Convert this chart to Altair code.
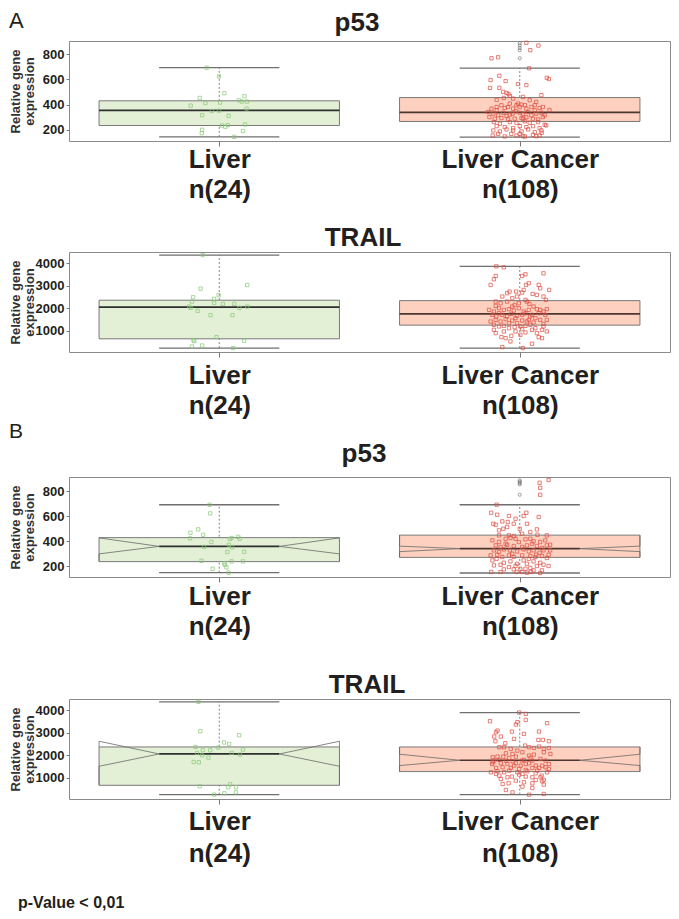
import altair as alt
import pandas as pd

groups = ["Liver", "Liver Cancer"]
counts = ["n(24)", "n(108)"]
genes = ["p53", "TRAIL", "p53", "TRAIL"]
tags = ["A", "B"]
footnote = "p-Value < 0,01"
centers = [1.0, 2.0]

# ---------------- Panel A : p53 ----------------
a_p53_liver_val = [693, 624, 490, 453, 413, 416, 392, 434, 424, 466, 424, 368,
                   349, 352, 315, 312, 234, 224, 237, 242, 200, 173, 190, 144]
a_p53_liver_jit = [-0.042, -0.001, 0.017, -0.065, -0.046, 0.003, -0.095, 0.065, 0.075, 0.084, 0.092, 0.091,
                   -0.025, -0.001, -0.057, 0.031, 0.009, 0.020, 0.029, 0.086, -0.057, -0.058, 0.079, 0.050]
a_p53_cancer_val = [891, 832, 869, 768, 776, 688, 613, 603, 629, 595,
                    587, 563, 555, 533, 533, 501, 493, 483, 469, 453,
                    475, 437, 448, 461, 421, 408, 400, 368, 381, 373,
                    381, 368, 395, 381, 395, 368, 381, 395, 373, 381,
                    357, 328, 315, 336, 309, 320, 347, 336, 325, 341,
                    315, 328, 336, 301, 288, 293, 283, 288, 293, 299,
                    288, 283, 301, 355, 328, 355, 288, 261, 248, 261,
                    256, 267, 256, 261, 240, 229, 221, 213, 229, 221,
                    229, 213, 235, 195, 187, 203, 195, 187, 203, 181,
                    195, 155, 147, 155, 149, 147, 160, 155, 176, 168,
                    168, 168, 149, 408, 435, 395, 315, 341]
a_p53_cancer_jit = [0.022, 0.035, 0.062, -0.094, -0.072, 0.031, 0.090, 0.097, -0.068, -0.097,
                    -0.047, -0.006, 0.022, -0.099, -0.068, -0.055, -0.044, -0.037, -0.033, -0.053,
                    0.072, -0.077, -0.022, 0.011, 0.055, -0.006, 0.006, -0.094, -0.077, -0.050,
                    -0.039, -0.022, -0.011, 0.000, 0.017, 0.022, 0.039, 0.050, 0.066, 0.077,
                    0.099, -0.088, -0.072, -0.055, -0.044, -0.033, -0.013, 0.000, 0.011, 0.028,
                    0.039, 0.055, 0.072, -0.101, -0.083, -0.061, -0.039, -0.017, 0.006, 0.022,
                    0.044, 0.061, 0.077, -0.077, -0.024, 0.050, 0.011, -0.086, -0.066, -0.033,
                    -0.011, 0.017, 0.033, 0.061, 0.083, -0.077, -0.050, -0.022, 0.000, 0.022,
                    0.044, 0.066, 0.088, -0.088, -0.066, -0.044, -0.022, 0.006, 0.028, 0.050,
                    0.072, -0.090, -0.050, -0.011, 0.011, 0.017, 0.044, 0.066, 0.073, -0.072,
                    -0.028, 0.000, 0.055, -0.033, 0.033, -0.061, 0.083, -0.105]
a_p53_outliers = [888, 870, 850, 832, 768]
a_p53_q1 = [234, 266]
a_p53_med = [354, 338]
a_p53_q3 = [430, 456]
a_p53_lo = [144, 142]
a_p53_hi = [693, 690]
a_p53_ticks = [200, 400, 600, 800]
a_p53_domain = [111, 905]

# ---------------- Panel A : TRAIL ----------------
a_trail_liver_val = [4364, 3031, 2867, 2484, 2573, 2289, 2409, 2067, 2009, 2231, 2187, 2187,
                     2009, 2067, 1875, 1684, 1684, 707, 573, 529, 542, 289, 333, 218]
a_trail_liver_jit = [-0.055, 0.093, -0.062, -0.087, -0.002, -0.091, -0.017, -0.100, -0.095, -0.017, 0.012, 0.050,
                     0.067, 0.093, -0.072, -0.029, 0.044, -0.009, -0.086, -0.083, 0.083, -0.091, -0.057, 0.046]
a_trail_cancer_val = [3860, 3817, 3432, 3284, 3032, 3550, 3506, 3432, 3106, 3032,
                      3032, 2810, 2884, 2736, 2662, 2736, 2691, 2632, 2588, 2365,
                      2514, 2291, 2217, 2099, 2440, 2217, 2143, 2291, 2188, 2069,
                      2514, 2365, 1921, 1847, 1773, 1921, 1951, 1892, 1995, 1847,
                      1921, 1951, 1921, 1951, 1847, 1699, 1625, 1699, 1625, 1743,
                      1655, 1699, 1773, 1699, 1773, 1699, 1477, 1403, 1507, 1447,
                      1329, 1447, 1477, 1358, 1477, 1299, 1255, 1181, 1210, 1107,
                      1151, 1181, 1210, 1255, 1107, 1033, 959, 884, 707, 662,
                      766, 959, 914, 1033, 707, 662, 1033, 959, 810, 514,
                      411, 262, 218, 1062, 1551, 1329, 1625, 1551, 1403, 1995,
                      1403, 884, 2291, 2514, 1477, 1181, 2069, 2810]
a_trail_cancer_jit = [-0.078, -0.053, -0.080, -0.086, -0.097, 0.079, 0.019, 0.008, 0.030, 0.021,
                      0.063, 0.098, 0.068, -0.034, -0.042, -0.012, 0.008, 0.043, 0.057, 0.019,
                      -0.058, -0.080, -0.064, -0.080, -0.025, -0.003, -0.017, 0.024, 0.032, 0.046,
                      0.079, 0.087, -0.102, -0.086, -0.069, -0.053, -0.036, -0.020, -0.003, 0.013,
                      0.030, 0.057, 0.068, 0.090, 0.079, -0.091, -0.078, -0.058, -0.042, -0.028,
                      -0.009, 0.008, 0.019, 0.041, 0.063, 0.085, -0.080, -0.064, -0.047, -0.025,
                      -0.009, 0.008, 0.030, 0.046, 0.068, 0.079, -0.086, -0.069, -0.053, -0.036,
                      -0.017, 0.002, 0.019, 0.035, 0.052, 0.074, 0.090, -0.080, -0.061, -0.047,
                      -0.028, -0.014, 0.019, 0.041, 0.063, 0.074, -0.086, -0.053, 0.002, -0.031,
                      0.041, -0.058, 0.010, 0.008, -0.014, -0.036, 0.035, 0.052, -0.097, -0.069,
                      0.024, 0.057, -0.042, -0.009, 0.090, 0.079, -0.025, 0.013]
a_trail_outliers = []
a_trail_q1 = [631, 1240]
a_trail_med = [2040, 1742]
a_trail_q3 = [2351, 2333]
a_trail_lo = [218, 218]
a_trail_hi = [4364, 3860]
a_trail_ticks = [1000, 2000, 3000, 4000]
a_trail_domain = [43, 4500]

# ---------------- Panel B : p53 (notched) ----------------
b_p53_liver_val = [693, 624, 469, 496, 453, 424, 395, 355, 427, 419, 437, 421,
                   373, 352, 315, 317, 245, 240, 240, 224, 211, 192, 181, 150]
b_p53_liver_jit = [-0.032, -0.030, -0.096, -0.070, -0.054, -0.097, -0.026, -0.050, 0.041, 0.035, 0.063, 0.068,
                   0.032, 0.043, 0.027, 0.083, -0.059, 0.041, 0.079, 0.017, 0.019, 0.024, -0.022, 0.031]
b_p53_cancer_val = [869, 891, 829, 773,
                    693, 629, 613, 541, 533, 560, 603, 581, 603, 629,
                    595, 555, 541, 501, 488, 501, 541, 496, 453, 448,
                    443, 427, 408, 395, 381, 421, 416, 421, 400, 395,
                    408, 373, 368, 355, 373, 363, 355, 368, 381, 363,
                    347, 368, 328, 315, 336, 328, 320, 336, 320, 328,
                    309, 328, 293, 288, 293, 275, 288, 275, 288, 283,
                    293, 283, 267, 248, 229, 240, 221, 248, 261, 240,
                    229, 203, 208, 213, 195, 203, 181, 187, 203, 213,
                    155, 155, 155, 155, 149, 155, 147, 176, 181, 168,
                    448, 475, 515, 461, 448, 421, 395, 275, 301, 221,
                    176, 168, 261, 328]
b_p53_cancer_jit = [0.066, 0.096, 0.068, 0.068,
                    -0.077, -0.095, -0.075, -0.088, -0.080, -0.058, -0.036, -0.014, 0.013, 0.022,
                    0.063, -0.040, -0.020, -0.055, -0.069, 0.000, 0.024, 0.057, 0.059, -0.036,
                    -0.020, -0.031, -0.091, -0.069, -0.047, -0.014, 0.019, 0.035, 0.046, 0.068,
                    0.085, 0.101, -0.080, -0.064, -0.042, -0.020, 0.008, 0.024, 0.041, 0.057,
                    0.074, 0.090, -0.086, -0.069, -0.053, -0.033, -0.009, 0.013, 0.030, 0.046,
                    0.066, 0.079, 0.096, -0.097, -0.075, -0.058, -0.036, -0.020, 0.008, 0.035,
                    0.055, 0.074, 0.090, -0.091, -0.053, -0.031, -0.009, 0.013, 0.030, 0.046,
                    0.068, 0.096, -0.086, -0.064, -0.036, -0.014, 0.002, 0.035, 0.057, 0.079,
                    -0.095, -0.064, -0.011, 0.008, 0.024, 0.037, 0.068, -0.020, 0.019, 0.046,
                    -0.069, 0.035, -0.042, 0.008, 0.090, -0.047, -0.003, 0.052, -0.025, 0.024,
                    -0.053, 0.074, -0.077, 0.101]
b_p53_outliers = [888, 877, 866, 856, 773]
b_p53_q1 = [238, 272]
b_p53_med = [360, 342]
b_p53_q3 = [430, 450]
b_p53_lo = [150, 147]
b_p53_hi = [693, 693]
b_p53_notch_lo = [300, 318]
b_p53_notch_hi = [428, 362]
b_p53_ticks = [200, 400, 600, 800]
b_p53_domain = [115, 915]

# ---------------- Panel B : TRAIL (notched) ----------------
b_trail_liver_val = [4380, 3071, 2893, 2567, 2504, 2371, 2342, 2223, 2223, 2104, 2104, 2253,
                     2000, 2030, 1896, 1700, 1687, 616, 705, 571, 571, 348, 304, 246]
b_trail_liver_jit = [-0.069, -0.063, 0.066, 0.016, 0.033, -0.079, -0.003, -0.055, -0.030, -0.074, 0.041, 0.079,
                     -0.057, 0.069, -0.036, -0.085, -0.068, -0.065, 0.036, 0.030, 0.056, 0.055, 0.017, -0.017]
b_trail_cancer_val = [3905, 3845, 3577, 3518, 3473, 3369, 3428, 3101, 3027, 3056,
                      3056, 2952, 2833, 2833, 2729, 2625, 2536, 2357, 2357, 2283,
                      2684, 2684, 2625, 2327, 2387, 2283, 2327, 2208, 2431, 2357,
                      2134, 2059, 1911, 1940, 1940, 1881, 1940, 1985, 2030, 2134,
                      2059, 1762, 1792, 1762, 1732, 1762, 1792, 1762, 1836, 1762,
                      1613, 1643, 1613, 1539, 1643, 1539, 1539, 1613, 1434, 1464,
                      1434, 1390, 1345, 1434, 1434, 1464, 1241, 1286, 1241, 1315,
                      1241, 1167, 1286, 1196, 1092, 1241, 943, 1018, 1137, 1048,
                      1018, 1018, 899, 1167, 720, 750, 869, 795, 750, 839,
                      452, 542, 690, 244, 274, 348, 601, 899, 1092, 1643,
                      1881, 1687, 1539, 1315, 1390, 1048, 1613, 2089]
b_trail_cancer_jit = [-0.002, 0.020, 0.020, -0.099, -0.008, -0.013, 0.091, -0.074, -0.079, -0.026,
                      0.064, 0.014, -0.085, -0.063, -0.019, -0.081, -0.048, -0.068, -0.052, -0.030,
                      0.077, 0.062, 0.097, 0.047, 0.064, 0.080, 0.097, -0.008, 0.018, 0.031,
                      0.009, -0.024, -0.090, -0.074, -0.055, -0.035, -0.013, 0.031, 0.047, 0.080,
                      0.102, -0.085, -0.068, -0.046, -0.024, 0.007, 0.014, 0.042, 0.069, 0.086,
                      -0.092, -0.063, -0.041, -0.019, 0.031, 0.053, 0.075, 0.097, -0.079, -0.057,
                      -0.030, -0.002, 0.020, 0.042, 0.064, 0.086, -0.096, -0.074, -0.052, -0.035,
                      -0.008, 0.009, 0.025, 0.053, 0.073, 0.091, -0.063, -0.041, -0.002, 0.020,
                      0.042, 0.069, 0.080, -0.079, -0.057, -0.037, -0.013, 0.014, 0.042, 0.075,
                      -0.046, 0.042, 0.080, 0.031, 0.080, -0.024, 0.009, 0.053, -0.068, -0.013,
                      0.036, -0.090, 0.003, 0.058, 0.097, -0.026, 0.020, -0.046]
b_trail_outliers = []
b_trail_q1 = [661, 1272]
b_trail_med = [2058, 1777]
b_trail_q3 = [2370, 2370]
b_trail_lo = [246, 244]
b_trail_hi = [4380, 3905]
b_trail_notch_lo = [1509, 1540]
b_trail_notch_hi = [2625, 2045]
b_trail_ticks = [1000, 2000, 3000, 4000]
b_trail_domain = [50, 4508]

# ---------------- styling ----------------
FONT = "Liberation Sans"
TEXT = "#231f20"
H = 100
LEFT = 68
WIDTH = 601
BOX_HALF = 0.4
WHISK_HALF = 0.2
point_colors = ["#86c872", "#de4a3f"]
box_colors = ["#e3f0d6", "#fdd0bf"]
median_colors = ["#2e2e2e", "#4e3630"]


def panel(gene, lv, lj, cv, cj, outl, q1, med, q3, lo, hi, nlo, nhi, ticks, ydom,
          top_ext, bottom_ext, title_x, title_y, label_pad, line_h, extra_texts):
    xs = alt.Scale(domain=[0.5, 2.5], nice=False, zero=False)
    ys = alt.Scale(domain=ydom, nice=False, zero=False)
    label_expr = (f"datum.value == 1 ? ['{groups[0]}', '{counts[0]}'] : "
                  f"['{groups[1]}', '{counts[1]}']")
    xaxis = alt.Axis(values=centers, labelExpr=label_expr, grid=False, domain=False,
                     tickSize=5, tickColor="#7a7a7a", tickWidth=1,
                     labelFont=FONT, labelFontSize=26, labelFontWeight="bold",
                     labelColor=TEXT, labelLineHeight=line_h, labelBaseline="alphabetic",
                     labelPadding=label_pad, labelFlush=False, labelOverlap=False,
                     labelBound=False, title="")
    yaxis = alt.Axis(values=ticks, format="d", grid=False, domain=False, tickSize=3,
                     tickColor="#7a7a7a", labelFont=FONT, labelFontSize=13,
                     labelFontWeight="bold", labelColor=TEXT, labelPadding=2,
                     title=["Relative gene", "expression"], titleFont=FONT,
                     titleFontSize=13, titleFontWeight="bold", titleColor="#333333",
                     titleLineHeight=13.5, titleAngle=270, titleAlign="center",
                     titleBaseline="alphabetic", titleX=18.5 - LEFT, titleY=H / 2)

    def X(f):
        return alt.X(f"{f}:Q", scale=xs, axis=xaxis)

    def Y(f):
        return alt.Y(f"{f}:Q", scale=ys, axis=yaxis)

    notched = nlo is not None
    st = pd.DataFrame({
        "group": groups,
        "c": centers,
        "L": [c - BOX_HALF for c in centers],
        "R": [c + BOX_HALF for c in centers],
        "wl": [c - WHISK_HALF for c in centers],
        "wr": [c + WHISK_HALF for c in centers],
        "q1": q1, "med": med, "q3": q3, "lo": lo, "hi": hi,
    })
    whisk_rows = []
    for i, c in enumerate(centers):
        for v in (lo[i], hi[i]):
            whisk_rows.append({"wl": c - WHISK_HALF, "wr": c + WHISK_HALF, "y": v})
    wdf = pd.DataFrame(whisk_rows)

    pts = [{"pos": centers[0] + j, "value": v, "group": groups[0]} for v, j in zip(lv, lj)]
    pts += [{"pos": centers[1] + j, "value": v, "group": groups[1]} for v, j in zip(cv, cj)]
    pdf = pd.DataFrame(pts)

    spacer = alt.Chart(pd.DataFrame({"s": [0]})).mark_rule(
        color="white", strokeOpacity=0, opacity=0, strokeWidth=0).encode(
        x=alt.value(-(LEFT - 8)), x2=alt.value(WIDTH),
        y=alt.value(-top_ext), y2=alt.value(H + bottom_ext))

    base = alt.Chart(st)
    dotted = base.mark_rule(color="#666666", strokeDash=[2, 2], strokeWidth=0.8).encode(
        x=X("c"), y=Y("lo"), y2="hi")
    box = base.mark_rect(stroke="#7a7a7a", strokeWidth=1).encode(
        x=X("L"), x2="R", y=Y("q1"), y2="q3",
        fill=alt.Fill("group:N", scale=alt.Scale(domain=groups, range=box_colors), legend=None))
    median = base.mark_rule(strokeWidth=1.7).encode(
        x=X("wl" if notched else "L"), x2=("wr" if notched else "R"), y=Y("med"),
        stroke=alt.Stroke("group:N", scale=alt.Scale(domain=groups, range=median_colors),
                          legend=None))
    whisk = alt.Chart(wdf).mark_rule(color="#6f6f6f", strokeWidth=1.3).encode(
        x=X("wl"), x2="wr", y=Y("y"))
    points = alt.Chart(pdf).mark_point(shape="square", filled=False, size=11,
                                       strokeWidth=0.7, opacity=1).encode(
        x=X("pos"), y=Y("value"),
        color=alt.Color("group:N", scale=alt.Scale(domain=groups, range=point_colors),
                        legend=None))
    layers = [spacer, dotted, box, median]
    if notched:
        rows = []
        for i, c in enumerate(centers):
            for side, sg in (("l", -1), ("r", 1)):
                path = [(c + sg * BOX_HALF, q3[i]), (c + sg * BOX_HALF, nhi[i]),
                        (c + sg * WHISK_HALF, med[i]), (c + sg * BOX_HALF, nlo[i]),
                        (c + sg * BOX_HALF, q1[i])]
                for k, (xx, yy) in enumerate(path):
                    rows.append({"path": f"{i}{side}", "i": k, "x": xx, "y": yy})
        notch = alt.Chart(pd.DataFrame(rows)).mark_line(color="#6a6a6a", strokeWidth=0.8).encode(
            x=X("x"), y=Y("y"), detail="path:N", order="i:Q")
        layers.append(notch)
    layers += [whisk, points]
    if outl:
        odf = pd.DataFrame({"c": [centers[1]] * len(outl), "value": outl})
        layers.append(alt.Chart(odf).mark_point(shape="circle", filled=False, size=10,
                                                color="#555555", strokeWidth=0.8).encode(
            x=X("c"), y=Y("value")))
    title = alt.Chart(pd.DataFrame({"t": [gene]})).mark_text(
        align="center", baseline="alphabetic", font=FONT, fontSize=26, fontWeight="bold",
        color=TEXT).encode(text="t:N", x=alt.value(title_x), y=alt.value(title_y))
    layers.append(title)
    for txt, tx, ty, fs, fw in extra_texts:
        layers.append(alt.Chart(pd.DataFrame({"t": [txt]})).mark_text(
            align="left", baseline="alphabetic", font=FONT, fontSize=fs, fontWeight=fw,
            color=TEXT).encode(text="t:N", x=alt.value(tx), y=alt.value(ty)))
    return alt.layer(*layers).properties(width=WIDTH, height=H)


p1 = panel(genes[0], a_p53_liver_val, a_p53_liver_jit, a_p53_cancer_val, a_p53_cancer_jit,
           a_p53_outliers, a_p53_q1, a_p53_med, a_p53_q3, a_p53_lo, a_p53_hi, None, None,
           a_p53_ticks, a_p53_domain,
           top_ext=31.7, bottom_ext=71, title_x=288, title_y=-10, label_pad=21,
           line_h=30, extra_texts=[(tags[0], 8 - LEFT, -13.5, 22, "normal")])
p2 = panel(genes[1], a_trail_liver_val, a_trail_liver_jit, a_trail_cancer_val, a_trail_cancer_jit,
           a_trail_outliers, a_trail_q1, a_trail_med, a_trail_q3, a_trail_lo, a_trail_hi, None, None,
           a_trail_ticks, a_trail_domain,
           top_ext=38, bottom_ext=67, title_x=294, title_y=-6, label_pad=26,
           line_h=30, extra_texts=[])
p3 = panel(genes[2], b_p53_liver_val, b_p53_liver_jit, b_p53_cancer_val, b_p53_cancer_jit,
           b_p53_outliers, b_p53_q1, b_p53_med, b_p53_q3, b_p53_lo, b_p53_hi,
           b_p53_notch_lo, b_p53_notch_hi, b_p53_ticks, b_p53_domain,
           top_ext=56, bottom_ext=79.5, title_x=295, title_y=-15.5, label_pad=22,
           line_h=30, extra_texts=[(tags[1], 8 - LEFT, -39.5, 21, "normal")])
p4 = panel(genes[3], b_trail_liver_val, b_trail_liver_jit, b_trail_cancer_val, b_trail_cancer_jit,
           b_trail_outliers, b_trail_q1, b_trail_med, b_trail_q3, b_trail_lo, b_trail_hi,
           b_trail_notch_lo, b_trail_notch_hi, b_trail_ticks, b_trail_domain,
           top_ext=41, bottom_ext=112, title_x=298, title_y=-6.5, label_pad=25,
           line_h=32, extra_texts=[(footnote, 17 - LEFT, 208.5, 16, "bold")])

chart = alt.concat(p1, p2, p3, p4, columns=1, spacing=0, padding=0)
chart = chart.resolve_scale(x="independent", y="independent")
chart = chart.configure(font=FONT).configure_view(stroke="#8a8a8a", strokeWidth=1)

chart.save("out.html", embed_options={"renderer": "svg", "actions": False})
